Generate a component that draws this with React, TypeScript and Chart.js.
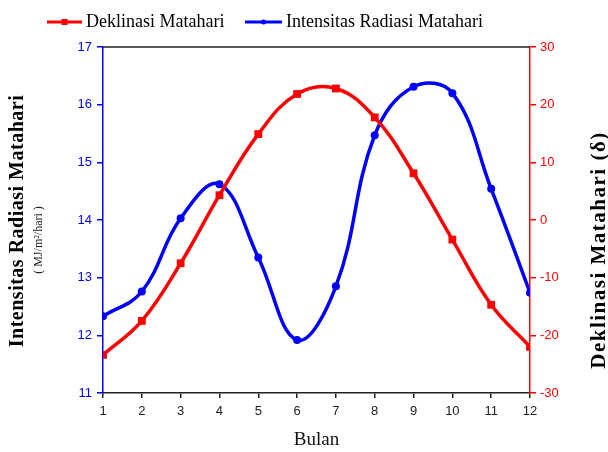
import React, { useEffect, useRef } from "react";
import { Chart, registerables } from "chart.js";

Chart.register(...registerables);

const months = [1, 2, 3, 4, 5, 6, 7, 8, 9, 10, 11, 12];
const intensitas = [12.33, 12.76, 14.03, 14.62, 13.35, 11.92, 12.85, 15.47, 16.31, 16.2, 14.54, 12.74];
const deklinasi = [-23.4, -17.5, -7.5, 4.3, 14.9, 21.85, 22.8, 17.8, 8.1, -3.4, -14.7, -22.0];
const leftRange = [11, 17];
const rightRange = [-30, 30];

const RED = "rgb(255,0,0)";
const BLUE = "rgb(0,0,255)";
const SERIF = "'Liberation Serif', 'DejaVu Serif', serif";
const SANS = "'Liberation Sans', Arial, sans-serif";

const decorPlugin = {
  id: "decor",
  afterDraw(chart: any) {
    const ctx = chart.ctx as CanvasRenderingContext2D;
    const a = chart.chartArea;
    ctx.save();
    // top border
    ctx.strokeStyle = "#222";
    ctx.lineWidth = 1.5;
    ctx.beginPath();
    ctx.moveTo(a.left, a.top);
    ctx.lineTo(a.right, a.top);
    ctx.stroke();

    // legend
    const ly = 22;
    const drawItem = (x0: number, x1: number, color: string, rect: boolean, label: string) => {
      ctx.strokeStyle = color;
      ctx.fillStyle = color;
      ctx.lineWidth = 3;
      ctx.beginPath();
      ctx.moveTo(x0, ly);
      ctx.lineTo(x1, ly);
      ctx.stroke();
      const mx = (x0 + x1) / 2;
      if (rect) {
        ctx.fillRect(mx - 3, ly - 3, 6, 6);
      } else {
        ctx.beginPath();
        ctx.arc(mx, ly, 2.5, 0, Math.PI * 2);
        ctx.fill();
      }
      ctx.fillStyle = "#000";
      ctx.font = `18px ${SERIF}`;
      ctx.textAlign = "left";
      ctx.textBaseline = "middle";
      ctx.fillText(label, x1 + 4, ly);
    };
    drawItem(47, 82, RED, true, "Deklinasi Matahari");
    drawItem(245, 282, BLUE, false, "Intensitas Radiasi Matahari");

    // x title
    ctx.fillStyle = "#111";
    ctx.font = `19px ${SERIF}`;
    ctx.textAlign = "center";
    ctx.textBaseline = "middle";
    ctx.fillText("Bulan", (a.left + a.right) / 2, 440);

    // left titles
    ctx.save();
    ctx.translate(18, 221);
    ctx.rotate(-Math.PI / 2);
    ctx.font = `bold 20px ${SERIF}`;
    (ctx as any).letterSpacing = "0.5px";
    ctx.fillStyle = "#000";
    ctx.fillText("Intensitas Radiasi Matahari", 0, 0);
    ctx.restore();

    ctx.save();
    ctx.translate(39, 240);
    ctx.rotate(-Math.PI / 2);
    ctx.font = `12px ${SERIF}`;
    ctx.fillStyle = "#222";
    ctx.fillText("( MJ/m\u00B2/hari )", 0, 0);
    ctx.restore();

    // right title
    ctx.save();
    ctx.translate(600, 250);
    ctx.rotate(-Math.PI / 2);
    ctx.font = `bold 21px ${SERIF}`;
    (ctx as any).letterSpacing = "1.5px";
    ctx.fillStyle = "#000";
    ctx.fillText("Deklinasi Matahari (\u03B4)", 0, 0);
    ctx.restore();

    ctx.restore();
  },
};

export default function App() {
  const ref = useRef<HTMLCanvasElement | null>(null);

  useEffect(() => {
    if (!ref.current) return;
    const chart = new Chart(ref.current, {
      type: "line",
      data: {
        datasets: [
          {
            label: "Deklinasi Matahari",
            data: months.map((m, i) => ({ x: m, y: deklinasi[i] })),
            yAxisID: "y1",
            borderColor: RED,
            backgroundColor: RED,
            borderWidth: 3.5,
            pointStyle: "rect",
            pointRadius: 5.5,
            pointBorderWidth: 0,
            tension: 0.4,
          },
          {
            label: "Intensitas Radiasi Matahari",
            data: months.map((m, i) => ({ x: m, y: intensitas[i] })),
            yAxisID: "y",
            borderColor: BLUE,
            backgroundColor: BLUE,
            borderWidth: 3.5,
            pointStyle: "circle",
            pointRadius: 4,
            pointBorderWidth: 0,
            tension: 0.4,
          },
        ],
      },
      options: {
        animation: false,
        responsive: false,
        devicePixelRatio: 1,
        layout: { padding: { top: 47, left: 0, right: 0, bottom: 0 } },
        plugins: { legend: { display: false }, tooltip: { enabled: false } },
        scales: {
          x: {
            type: "linear",
            min: months[0],
            max: months[months.length - 1],
            afterFit: (s: any) => {
              s.height = 59;
            },
            ticks: {
              stepSize: 1,
              color: "#222",
              padding: 6,
              font: { family: SANS, size: 13 },
            },
            grid: { drawOnChartArea: false, color: "#222", tickLength: 5, lineWidth: 1.5 },
            border: { color: "#222", width: 1.5 },
          },
          y: {
            position: "left",
            min: leftRange[0],
            max: leftRange[1],
            afterFit: (s: any) => {
              s.width = 103;
            },
            ticks: {
              stepSize: 1,
              color: BLUE,
              padding: 5,
              font: { family: SANS, size: 13 },
            },
            grid: { drawOnChartArea: false, color: BLUE, tickLength: 6, lineWidth: 1.5 },
            border: { color: BLUE, width: 1.5 },
          },
          y1: {
            position: "right",
            min: rightRange[0],
            max: rightRange[1],
            afterFit: (s: any) => {
              s.width = 78;
            },
            ticks: {
              stepSize: 10,
              color: RED,
              padding: 4,
              font: { family: SANS, size: 13 },
            },
            grid: { drawOnChartArea: false, color: RED, tickLength: 6, lineWidth: 1.5 },
            border: { color: RED, width: 1.5 },
          },
        },
      } as any,
      plugins: [decorPlugin],
    });
    return () => chart.destroy();
  }, []);

  return (
    <div style={{ position: "fixed", left: 0, top: 0, width: 608, height: 452, background: "#fff" }}>
      <canvas ref={ref} width={608} height={452} style={{ display: "block", width: 608, height: 452 }} />
    </div>
  );
}
